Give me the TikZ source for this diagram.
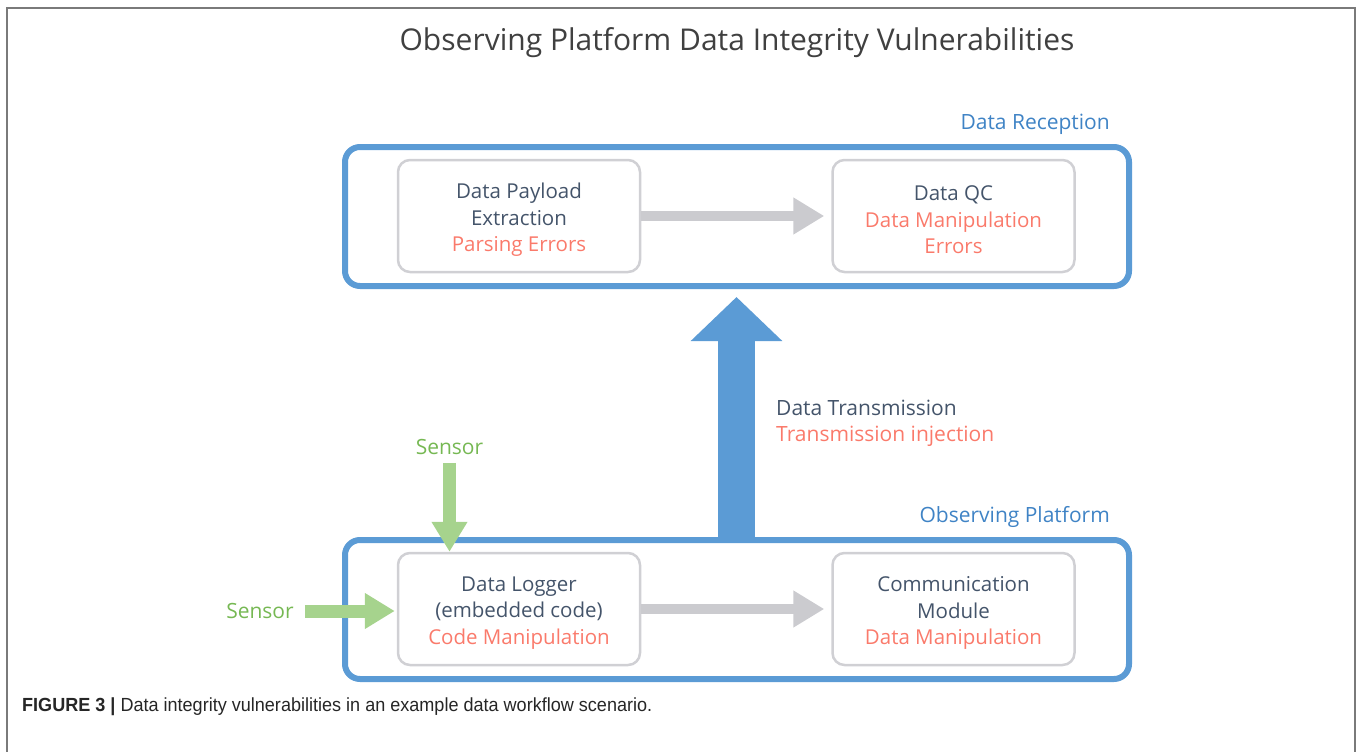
\documentclass[tikz,border=0pt]{standalone}
\usepackage{fontspec}
\setmainfont{Open Sans}
\newfontfamily\capfont[FakeStretch=0.95]{Liberation Sans}
\usetikzlibrary{arrows.meta}
\definecolor{cblue}{HTML}{5B9BD5}
\definecolor{lblue}{HTML}{3F83C5}
\definecolor{bgray}{HTML}{D0D0D4}
\definecolor{agray}{HTML}{CBCBCF}
\definecolor{tdark}{HTML}{44546A}
\definecolor{tred}{HTML}{FA7A6B}
\definecolor{tgreen}{HTML}{76B853}
\definecolor{agreen}{HTML}{A6D38D}
\definecolor{ttitle}{HTML}{404040}
\definecolor{frame}{HTML}{7A7A7A}
\begin{document}
\begin{tikzpicture}[x=1pt,y=-1pt,
  container/.style={draw=cblue, line width=6pt, rounded corners=15pt, minimum width=784pt, minimum height=139pt, inner sep=0pt},
  stagebox/.style={draw=bgray, line width=2.5pt, rounded corners=12pt, minimum width=242pt, minimum height=112pt, inner sep=0pt},
  stagetext/.style={align=center, text=tdark, font=\fontsize{20.5}{26.5}\selectfont, inner sep=0pt, yshift=-4pt},
  grouplabel/.style={text=lblue, font=\fontsize{21}{26.5}\selectfont, inner sep=0pt, anchor=east},
  sensorlabel/.style={text=tgreen, font=\fontsize{21}{26.5}\selectfont, inner sep=0pt},
  grayarrow/.style={draw=agray, line width=10pt, -{Triangle[length=31pt,width=35pt]}},
  greenarrow/.style={draw=agreen, line width=13pt, -{Triangle[length=30pt,width=34pt]}},
  bluearrow/.style={draw=cblue, line width=37pt, -{Triangle[length=44pt,width=89pt]}}
]
\useasboundingbox (0,0) rectangle (1360,752);
% frame
\draw[frame, line width=2pt] (7,752) -- (7,8) -- (1355,8) -- (1355,752);
% title
\node[text=ttitle, font=\fontsize{30}{36}\selectfont, inner sep=0pt] (title) at (737,43) {Observing Platform Data Integrity Vulnerabilities};
% containers
\node[container] (recv) at (737,216.5) {};
\node[container] (plat) at (737,609.5) {};
\node[grouplabel] (recvlab) at (1110,124) {Data Reception};
\node[grouplabel] (platlab) at (1110,517) {Observing Platform};
% boxes
\node[stagebox, label={[stagetext]center:Data Payload\\Extraction\\\textcolor{tred}{Parsing Errors}}] (b1) at (519,216) {};
\node[stagebox, label={[stagetext]center:Data QC\\\textcolor{tred}{Data Manipulation}\\\textcolor{tred}{Errors}}] (b2) at (953.5,216) {};
\node[stagebox, label={[stagetext]center:Data Logger\\(embedded code)\\\textcolor{tred}{Code Manipulation}}] (b3) at (519,609) {};
\node[stagebox, label={[stagetext]center:Communication\\Module\\\textcolor{tred}{Data Manipulation}}] (b4) at (953.5,609) {};
% gray arrows
\draw[grayarrow, shorten >=7pt] (b1.east) -- (b2.west);
\draw[grayarrow, shorten >=7pt] (b3.east) -- (b4.west);
% blue transmission arrow
\draw[bluearrow, shorten >=8pt] ([xshift=-0.5pt]plat.north) -- ([xshift=-0.5pt]recv.south);
\node[anchor=west, align=left, text=tdark, font=\fontsize{21}{26.5}\selectfont, inner sep=0pt] (tx) at (776,423.5) {Data Transmission\\\textcolor{tred}{Transmission injection}};
% sensors
\node[sensorlabel] (s1) at (449.5,447) {Sensor};
\node[sensorlabel] (s2) at (260,611) {Sensor};
\draw[greenarrow] ([yshift=-8pt]s1.south) -- (s1.south |- b3.north);
\draw[greenarrow, shorten >=2pt] ([xshift=11pt]s2.east) -- (s2.east -| b3.west);
% caption
\node[anchor=west, inner sep=0pt, font=\capfont\fontsize{19}{22}\selectfont, text=black!85] (cap) at (22,707) {\textbf{FIGURE 3 |} Data integrity vulnerabilities in an example data workflow scenario.};
\end{tikzpicture}
\end{document}
